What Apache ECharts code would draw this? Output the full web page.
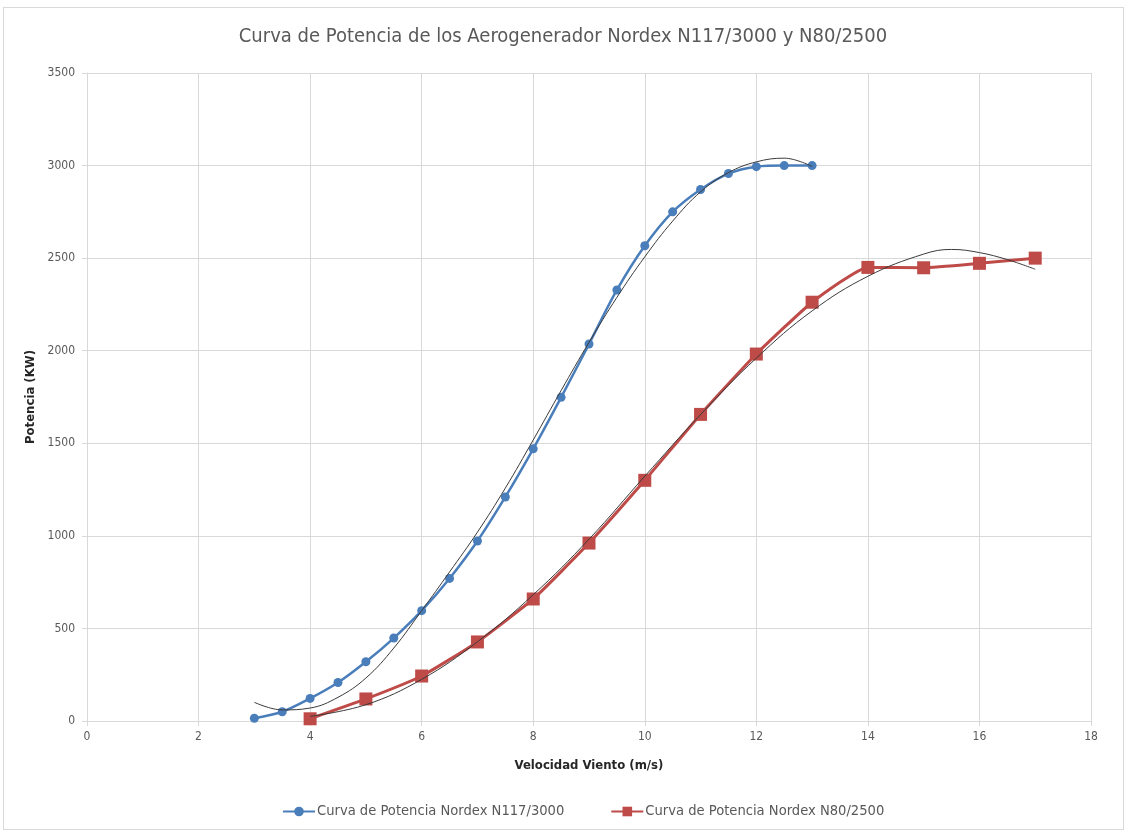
<!DOCTYPE html>
<html>
<head>
<meta charset="utf-8">
<script src="https://cdn.jsdelivr.net/npm/echarts@6/dist/echarts.min.js"></script>
<style>
html,body{margin:0;padding:0;background:#fff;}
#frame{position:absolute;left:3px;top:7px;width:1121px;height:823px;border:1px solid #d9d9d9;box-sizing:border-box;}
#chart{position:absolute;left:0;top:0;width:1126px;height:832px;}
</style>
</head>
<body>
<div id="frame"></div>
<div id="chart"></div>
<script>
var titleText = 'Curva de Potencia de los Aerogenerador Nordex N117/3000 y N80/2500';
var nameN117 = 'Curva de Potencia Nordex N117/3000';
var nameN80 = 'Curva de Potencia Nordex N80/2500';

// N117/3000 measured points
var n117Speed = [3, 3.5, 4, 4.5, 5, 5.5, 6, 6.5, 7, 7.5, 8, 8.5, 9, 9.5, 10, 10.5, 11, 11.5, 12, 12.5, 13];
var n117Power = [15, 50, 122, 208, 320, 448, 596, 770, 972, 1210, 1470, 1748, 2036, 2328, 2567, 2750, 2871, 2957, 2994, 3000, 3000];

// N80/2500 measured points
var n80Speed = [4, 5, 6, 7, 8, 9, 10, 11, 12, 13, 14, 15, 16, 17];
var n80Power = [12, 119, 243, 427, 659, 961, 1300, 1656, 1982, 2262, 2450, 2448, 2472, 2500];

// trendlines
var trend117Speed = [3, 3.5, 4, 4.5, 5, 5.5, 6, 6.5, 7, 7.5, 8, 8.5, 9, 9.5, 10, 10.5, 11, 11.5, 12, 12.5, 13];
var trend117Power = [101, 60, 70, 128, 232, 394, 596, 805, 1020, 1258, 1518, 1785, 2045, 2288, 2507, 2700, 2858, 2962, 3020, 3040, 2995];
var trend80Speed = [4, 5, 6, 7, 8, 9, 10, 11, 12, 13, 14, 15, 15.5, 16, 16.5, 17];
var trend80Power = [25, 88, 225, 428, 682, 982, 1322, 1655, 1960, 2215, 2402, 2522, 2547, 2530, 2492, 2440];

var xTicks = {min: 0, max: 18, interval: 2};
var yTicks = {min: 0, max: 3500, interval: 500};

function pairs(xs, ys) {
  var out = [];
  for (var i = 0; i < xs.length; i++) out.push([xs[i], ys[i]]);
  return out;
}

var labelColor = '#595959';
var gridColor = '#d9d9d9';
var font = '"Liberation Sans Narrow", "DejaVu Sans Condensed", "Liberation Sans", sans-serif';

var chart = echarts.init(document.getElementById('chart'));
chart.setOption({
  animation: false,
  textStyle: {fontFamily: font},
  title: {
    text: titleText,
    left: 'center',
    top: 22,
    textStyle: {fontSize: 20, fontWeight: 'normal', color: '#595959', fontFamily: font}
  },
  legend: {
    data: [nameN117, nameN80],
    bottom: 8,
    left: 277,
    itemGap: 46,
    itemWidth: 32,
    itemHeight: 12,
    textStyle: {fontSize: 14.6, color: labelColor, fontFamily: font, padding: [0, 0, 0, -3]}
  },
  grid: {left: 87, right: 35, top: 73, bottom: 111},
  xAxis: {
    type: 'value',
    min: xTicks.min, max: xTicks.max, interval: xTicks.interval,
    name: 'Velocidad Viento (m/s)',
    nameLocation: 'middle',
    nameGap: 38,
    nameTextStyle: {fontSize: 13, fontWeight: 'bold', color: '#262626', fontFamily: font},
    axisLine: {show: true, lineStyle: {color: gridColor}},
    axisTick: {show: true, length: 5, lineStyle: {color: gridColor}},
    axisLabel: {fontSize: 12, color: labelColor, margin: 10},
    splitLine: {show: true, lineStyle: {color: gridColor}}
  },
  yAxis: {
    type: 'value',
    min: yTicks.min, max: yTicks.max, interval: yTicks.interval,
    name: 'Potencia (KW)',
    nameLocation: 'middle',
    nameGap: 47,
    nameTextStyle: {fontSize: 13, fontWeight: 'bold', color: '#262626', fontFamily: font},
    axisLine: {show: true, lineStyle: {color: gridColor}},
    axisTick: {show: true, length: 5, lineStyle: {color: gridColor}},
    axisLabel: {fontSize: 12, color: labelColor, margin: 12, formatter: function (v) { return String(v); }},
    splitLine: {show: true, lineStyle: {color: gridColor}}
  },
  series: [
    {
      name: nameN117,
      type: 'line',
      smooth: 0.3,
      data: pairs(n117Speed, n117Power),
      symbol: 'circle',
      symbolSize: 9,
      itemStyle: {color: '#4a7ebb'},
      lineStyle: {color: '#4a7ebb', width: 2.5},
      z: 3
    },
    {
      name: nameN80,
      type: 'line',
      smooth: 0.15,
      data: pairs(n80Speed, n80Power),
      symbol: 'rect',
      symbolSize: 13,
      itemStyle: {color: '#be4b48'},
      lineStyle: {color: '#be4b48', width: 3},
      z: 3
    },
    {
      name: 'trend117',
      type: 'line',
      smooth: 0.4,
      data: pairs(trend117Speed, trend117Power),
      showSymbol: false,
      lineStyle: {color: '#3a3a3a', width: 1},
      silent: true,
      z: 4
    },
    {
      name: 'trend80',
      type: 'line',
      smooth: 0.4,
      data: pairs(trend80Speed, trend80Power),
      showSymbol: false,
      lineStyle: {color: '#3a3a3a', width: 1},
      silent: true,
      z: 4
    }
  ]
});
</script>
</body>
</html>
